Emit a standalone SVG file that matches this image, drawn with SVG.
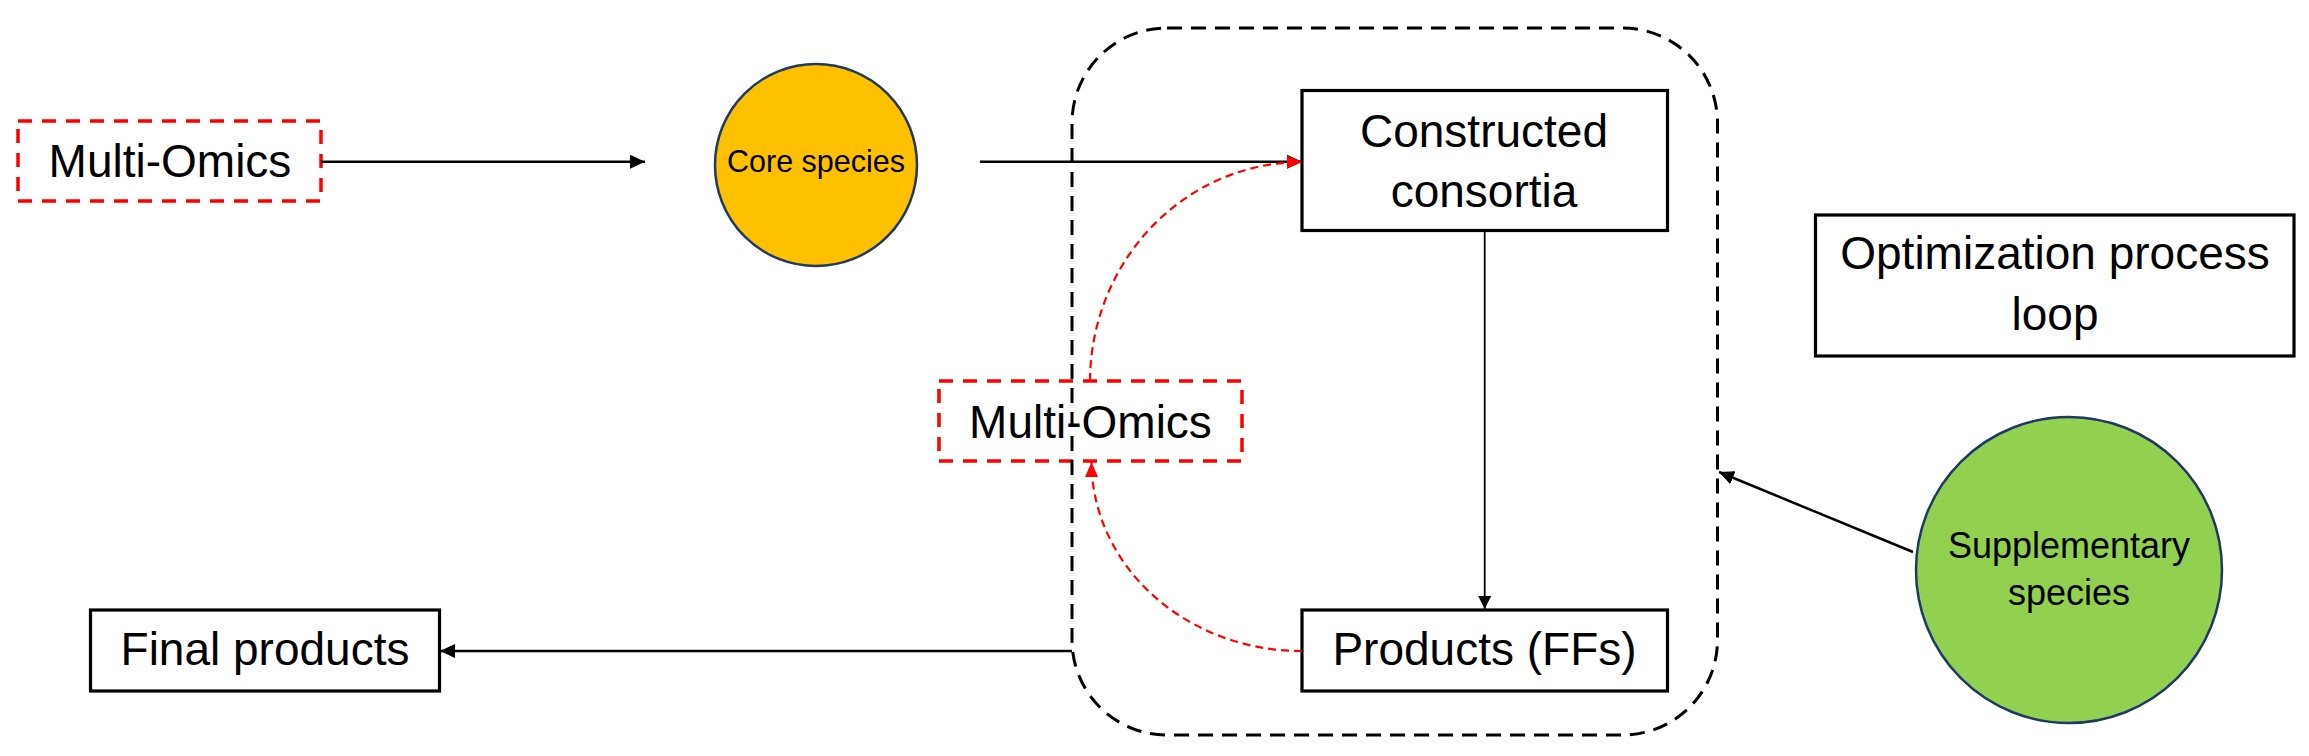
<svg xmlns="http://www.w3.org/2000/svg" width="2309" height="756" viewBox="0 0 2309 756">
<style>
.box{fill:none;stroke:#000;stroke-width:3.2}
.rbox{fill:none;stroke:#FF0000;stroke-width:3.5;stroke-dasharray:14 10}
.lbl{font-family:"Liberation Sans",Arial,sans-serif;font-size:46px;fill:#000;text-anchor:middle}
.small{font-family:"Liberation Sans",Arial,sans-serif;fill:#000;text-anchor:middle}
.con{fill:none;stroke:#000;stroke-width:2.5}
.thin{fill:none;stroke:#000;stroke-width:1.8}
.red{fill:none;stroke:#FF0000;stroke-width:2.2;stroke-dasharray:8 5}
.loop{fill:none;stroke:#000;stroke-width:3;stroke-dasharray:15 9}
</style>
<defs>
<marker id="ah" markerUnits="userSpaceOnUse" markerWidth="16" markerHeight="14" refX="15" refY="7" orient="auto">
<path d="M0,0 L15,7 L0,14 Z" fill="#000"/>
</marker>
<marker id="ahs" markerUnits="userSpaceOnUse" markerWidth="14" markerHeight="14" refX="13" refY="7" orient="auto">
<path d="M0,0.5 L13,7 L0,13.5 Z" fill="#000"/>
</marker>
<marker id="ahr" markerUnits="userSpaceOnUse" markerWidth="16" markerHeight="14" refX="15" refY="7" orient="auto">
<path d="M0,0.5 L15,7 L0,13.5 Z" fill="#FF0000"/>
</marker>
</defs>
<rect width="2309" height="756" fill="#fff"/>

<g id="multi-omics-1">
<rect class="rbox" x="18" y="121" width="303" height="80"/>
<text class="lbl" x="170" y="177">Multi-Omics</text>
</g>

<g id="core-species">
<circle cx="816" cy="165" r="101" fill="#FFC000" stroke="#1F3864" stroke-width="2.5"/>
<text class="small" x="816" y="172" font-size="30.5">Core species</text>
</g>

<g id="constructed-consortia">
<rect class="box" x="1302" y="90.5" width="365.5" height="140"/>
<text class="lbl" x="1484" y="146.5">Constructed</text>
<text class="lbl" x="1484" y="206.5">consortia</text>
</g>

<g id="multi-omics-2">
<rect class="rbox" x="939" y="381" width="303" height="80"/>
<text class="lbl" x="1090.5" y="438">Multi-Omics</text>
</g>

<g id="products-ffs">
<rect class="box" x="1302" y="610" width="365.5" height="81"/>
<text class="lbl" x="1484.5" y="665">Products (FFs)</text>
</g>

<g id="final-products">
<rect class="box" x="90.5" y="610" width="349" height="81"/>
<text class="lbl" x="265" y="665">Final products</text>
</g>

<g id="optimization-loop">
<rect class="box" x="1815.5" y="215" width="478.5" height="141"/>
<text class="lbl" x="2055" y="269">Optimization process</text>
<text class="lbl" x="2055" y="330">loop</text>
</g>

<g id="supplementary-species">
<circle cx="2069" cy="570" r="153" fill="#92D050" stroke="#1F3864" stroke-width="2.5"/>
<text class="small" x="2069" y="558" font-size="36">Supplementary</text>
<text class="small" x="2069" y="605" font-size="36">species</text>
</g>

<g id="loop-boundary">
<rect class="loop" x="1072" y="28" width="645.5" height="707" rx="95" ry="95"/>
</g>

<g id="connectors">
<line class="con" x1="321" y1="161.7" x2="645" y2="161.7" marker-end="url(#ah)"/>
<line class="con" x1="980" y1="161.7" x2="1302" y2="161.7" marker-end="url(#ah)"/>
<line class="thin" x1="1484.7" y1="231" x2="1484.7" y2="609" marker-end="url(#ahs)"/>
<line class="con" x1="1072" y1="651" x2="440" y2="651" marker-end="url(#ah)"/>
<line class="con" x1="1913" y1="552" x2="1719" y2="472" marker-end="url(#ah)"/>
<path class="red" d="M1090,381 A212,220 0 0 1 1302,162" marker-end="url(#ahr)"/>
<path class="red" d="M1302,651 A210,190 0 0 1 1091.5,462" marker-end="url(#ahr)"/>
</g>
</svg>
